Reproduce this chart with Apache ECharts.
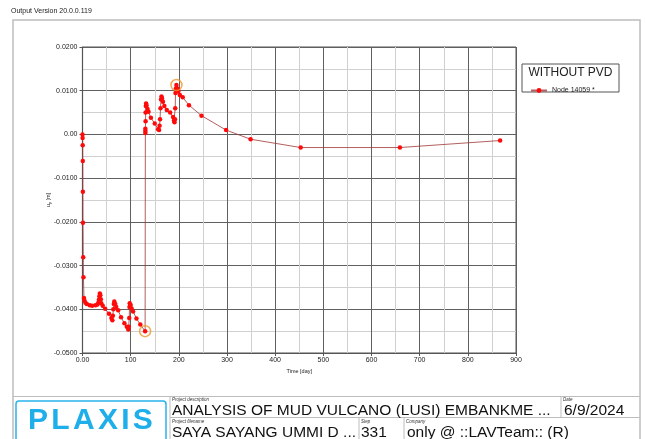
<!DOCTYPE html>
<html><head><meta charset="utf-8">
<script src="https://cdn.jsdelivr.net/npm/echarts@6/dist/echarts.min.js"></script>
<style>html,body{margin:0;padding:0;background:#fff}#c{width:646px;height:439px}</style>
</head><body><div id="c"></div>
<script>
// Data (time [day], uy [m])
const seriesName = 'Node 14059 *';
const timeDays = [0,0.2,0.4,0.6,0.8,1,1.5,2,3,4,6,9,15,20,27,31,33,34,35,36,37,38,39,42,47,55,60,62,63,64,65,66,68,70,74,80,87,92,95,96,97,97.5,98,100,102,105,112,120,130,
  130.5,130.5,130.5,131,131,131.5,132,133,135,137,142,150,157,159,160,161,162,163,164,165,167,170,175,182,188,190,191,192,192.5,193,194,195,197,199,202,208,221,247,298,349,453,659,867];
const uyValues = [0,-0.0008,-0.0025,-0.0061,-0.0131,-0.0202,-0.0281,-0.0327,-0.0374,-0.0380,-0.0385,-0.0388,-0.0391,-0.0392,-0.0391,-0.0389,-0.0385,-0.0378,-0.0370,-0.0364,-0.0368,-0.0377,-0.0386,-0.0392,-0.0399,-0.0410,-0.0420,-0.0425,-0.0415,-0.0400,-0.0388,-0.0382,-0.0388,-0.0395,-0.0402,-0.0418,-0.0432,-0.0440,-0.0446,-0.0440,-0.0420,-0.0395,-0.0386,-0.0390,-0.0398,-0.0405,-0.0421,-0.0435,-0.0450,
  0.0003,0.0008,0.0013,0.0030,0.0050,0.0065,0.0071,0.0066,0.0058,0.0052,0.0038,0.0025,0.0012,0.0010,0.0020,0.0035,0.0060,0.0080,0.0087,0.0083,0.0075,0.0065,0.0056,0.0050,0.0040,0.0032,0.0028,0.0035,0.0060,0.0095,0.0105,0.0113,0.0105,0.0098,0.0090,0.0085,0.0067,0.0043,0.0010,-0.0011,-0.0030,-0.0030,-0.0014];
const highlightTimes = [130, 195];
const highlightValues = [-0.0450, 0.0113];
const xTicks = {min:0, max:900, interval:100};
const yTicks = {min:-0.05, max:0.02, interval:0.01};

const lineData = timeDays.map((t,i)=>[t, uyValues[i]]);
const hiData = highlightTimes.map((t,i)=>[t, highlightValues[i]]);

const chart = echarts.init(document.getElementById('c'), null, {renderer:'canvas'});
const F = 'Liberation Sans, Arial, sans-serif';
const gridLeft = 82.5, gridTop = 47, gridRight = 130, gridBottom = 86;

const logoLetters = ['P','L','A','X','I','S'];
const logoX = [28, 51.3, 72.9, 97.9, 121.2, 132.8];

chart.setOption({
  backgroundColor:'#fff',
  animation:false,
  grid:{left:gridLeft, top:gridTop, right:gridRight, bottom:gridBottom, containLabel:false,
        show:true, borderColor:'#555', borderWidth:1},
  xAxis:{type:'value', min:xTicks.min, max:xTicks.max, interval:xTicks.interval,
    name:'Time [day]', nameLocation:'middle', nameGap:15, nameMoveOverlap:false,
    nameTextStyle:{fontFamily:F, fontSize:5.5, color:'#222'},
    axisLine:{show:true, onZero:false, lineStyle:{color:'#555', width:1.2}},
    axisTick:{show:true, length:3, lineStyle:{color:'#555'}},
    axisLabel:{fontFamily:F, fontSize:7, color:'#222', margin:4,
      formatter:v=> v===0 ? '0.00' : String(v)},
    splitLine:{show:true, lineStyle:{color:'#606060', width:1}},
    minorTick:{show:false, splitNumber:2},
    minorSplitLine:{show:true, lineStyle:{color:'#d0d0d0', width:1}}
  },
  yAxis:{type:'value', min:yTicks.min, max:yTicks.max, interval:yTicks.interval,
    name:'{a|u}{s|y}{a| [m]}', nameLocation:'middle', nameGap:31, nameRotate:90, nameMoveOverlap:false,
    nameTextStyle:{fontFamily:F, fontSize:5.5, color:'#222',
      rich:{a:{fontFamily:F,fontSize:5.5,color:'#222'}, s:{fontFamily:F,fontSize:4,color:'#222',verticalAlign:'bottom',padding:[3,0,0,0]}}},
    axisLine:{show:true, onZero:false, lineStyle:{color:'#555', width:1.2}},
    axisTick:{show:true, length:3, lineStyle:{color:'#555'}},
    axisLabel:{fontFamily:F, fontSize:7, color:'#222', margin:5,
      formatter:v=> Math.abs(v)<1e-9 ? '0.00' : v.toFixed(4)},
    splitLine:{show:true, lineStyle:{color:'#606060', width:1}},
    minorTick:{show:false, splitNumber:2},
    minorSplitLine:{show:true, lineStyle:{color:'#d0d0d0', width:1}}
  },
  legend:{show:true, left:525, top:82, itemWidth:16, itemHeight:6, itemGap:4,
    data:[{name:seriesName}],
    textStyle:{fontFamily:F, fontSize:7, color:'#222', padding:[0,0,0,0]}},
  series:[
    {name:seriesName, type:'line', data:lineData, showSymbol:true, symbol:'circle', symbolSize:4.5,
     itemStyle:{color:'#ff0a0a'}, lineStyle:{color:'rgba(160,55,55,0.8)', width:1}, z:3},
    {name:'hi', type:'scatter', data:hiData, symbol:'circle', symbolSize:11,
     itemStyle:{color:'rgba(255,255,255,0)', borderColor:'#f0962a', borderWidth:1.5}, z:4, silent:true}
  ],
  graphic:[
    {type:'text', left:11, top:8, style:{text:'Output Version 20.0.0.119', font:'7px '+F, fill:'#222'}},
    {type:'rect', shape:{x:13, y:20, width:627, height:430}, style:{fill:'none', stroke:'#bdbdbd', lineWidth:1.5}, z:-1},
    // legend box
    {type:'rect', shape:{x:522, y:64, width:97, height:28}, style:{fill:'#fff', stroke:'#555', lineWidth:1}, z:0},
    {type:'text', x:570.5, y:67, style:{text:'WITHOUT PVD', font:'12px '+F, fill:'#222', align:'center'}, z:10},
    // title block
    {type:'line', shape:{x1:13, y1:396.5, x2:640, y2:396.5}, style:{stroke:'#bdbdbd', lineWidth:1.2}},
    {type:'line', shape:{x1:170, y1:396.5, x2:170, y2:439}, style:{stroke:'#bdbdbd', lineWidth:1}},
    {type:'line', shape:{x1:170, y1:417.5, x2:640, y2:417.5}, style:{stroke:'#bdbdbd', lineWidth:1}},
    {type:'line', shape:{x1:561, y1:396.5, x2:561, y2:417.5}, style:{stroke:'#bdbdbd', lineWidth:1}},
    {type:'line', shape:{x1:359, y1:417.5, x2:359, y2:439}, style:{stroke:'#bdbdbd', lineWidth:1}},
    {type:'line', shape:{x1:404, y1:417.5, x2:404, y2:439}, style:{stroke:'#bdbdbd', lineWidth:1}},
    {type:'rect', shape:{x:16, y:401, width:150, height:50, r:3}, style:{fill:'none', stroke:'#29b3ec', lineWidth:1.5}},
    ...logoLetters.map((ch,i)=>({type:'text', x:logoX[i], y:406, style:{text:ch, font:'bold 30px '+F, fill:'#1eaeea'}})),
    {type:'text', x:172, y:397, style:{text:'Project description', font:'italic 4.5px '+F, fill:'#333'}},
    {type:'text', x:172, y:403, style:{text:'ANALYSIS OF MUD VULCANO (LUSI) EMBANKME ...', font:'15.5px '+F, fill:'#111'}},
    {type:'text', x:563, y:397, style:{text:'Date', font:'italic 4.5px '+F, fill:'#333'}},
    {type:'text', x:564, y:403, style:{text:'6/9/2024', font:'15.5px '+F, fill:'#111'}},
    {type:'text', x:172, y:419, style:{text:'Project filename', font:'italic 4.5px '+F, fill:'#333'}},
    {type:'text', x:172, y:425, style:{text:'SAYA SAYANG UMMI D ...', font:'15.5px '+F, fill:'#111'}},
    {type:'text', x:361, y:419, style:{text:'Step', font:'italic 4.5px '+F, fill:'#333'}},
    {type:'text', x:361, y:425, style:{text:'331', font:'15.5px '+F, fill:'#111'}},
    {type:'text', x:406, y:419, style:{text:'Company', font:'italic 4.5px '+F, fill:'#333'}},
    {type:'text', x:407, y:425, style:{text:'only @ ::LAVTeam:: (R)', font:'15.5px '+F, fill:'#111'}}
  ]
});
</script></body></html>
